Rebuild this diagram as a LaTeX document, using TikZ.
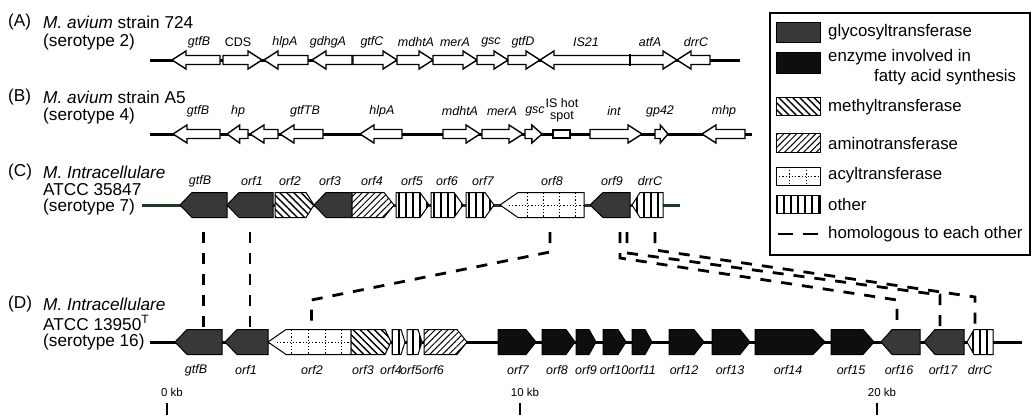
\documentclass[tikz,border=0pt]{standalone}
\usepackage{fontspec}
\setmainfont{Liberation Sans}
\usepackage{xcolor}
\usepackage{tikz}
\usetikzlibrary{calc,patterns.meta}
\definecolor{glycogray}{HTML}{383838}
\definecolor{fattyblack}{HTML}{0E0E0E}
\definecolor{cline}{HTML}{1C3A24}

% open arrow (rows A, B): #1 = R/L, #2 = x1, #3 = x2, #4 = y
\newcommand{\oarrow}[4]{%
  \pgfmathsetmacro\hlen{min(14,0.6*(#3-#2))}%
  \if#1R
    \draw[oarr] (#2,#4-4.5) -- (#3-\hlen,#4-4.5) -- (#3-\hlen,#4-9) -- (#3,#4)
      -- (#3-\hlen,#4+9) -- (#3-\hlen,#4+4.5) -- (#2,#4+4.5) -- cycle;
  \else
    \draw[oarr] (#3,#4-4.5) -- (#2+\hlen,#4-4.5) -- (#2+\hlen,#4-9) -- (#2,#4)
      -- (#2+\hlen,#4+9) -- (#2+\hlen,#4+4.5) -- (#3,#4+4.5) -- cycle;
  \fi}
% block gene (rows C, D): #1 = style, #2 = R/L, #3 = x1, #4 = x2, #5 = tip, #6 = y, #7 = name
\newcommand{\bgene}[7]{%
  \if#2R
    \draw[#1] (#3,#6-12.5) -- (#4-#5,#6-12.5) -- (#4,#6) -- (#4-#5,#6+12.5) -- (#3,#6+12.5) -- cycle;
  \else
    \draw[#1] (#4,#6-12.5) -- (#3+#5,#6-12.5) -- (#3,#6) -- (#3+#5,#6+12.5) -- (#4,#6+12.5) -- cycle;
  \fi
  \coordinate (#7) at ({(#3+#4)/2},#6);}

\begin{document}
\begin{tikzpicture}[x=1pt, y=-1pt,
    oarr/.style={draw=black, line width=1.4pt, fill=white},
    bb/.style={line width=3pt, draw=black},
    glyco/.style={draw=black, line width=1pt, fill=glycogray},
    fatty/.style={draw=black, line width=1pt, fill=fattyblack},
    methyl/.style={draw=black, line width=1pt, preaction={fill=white},
                   pattern={Lines[angle=-45,distance=5pt,line width=1.4pt]}},
    amino/.style={draw=black, line width=1pt, preaction={fill=white},
                  pattern={Lines[angle=45,distance=4.5pt,line width=1pt]}},
    misc/.style={draw=black, line width=1pt, preaction={fill=white},
                 pattern={Lines[angle=90,distance=7pt,line width=1.6pt]}},
    acyl/.style={draw=black, line width=1pt, fill=white},
    acyldot/.style={line width=0.9pt, dash pattern=on 1.2pt off 2pt},
    homol/.style={line width=2.8pt, dash pattern=on 11pt off 10pt},
    ttl/.style={font=\fontsize{17.2}{19}\selectfont, anchor=west, inner sep=0pt},
    glbl/.style={font=\fontsize{12.5}{14}\selectfont\itshape, inner sep=0pt},
    lgd/.style={font=\fontsize{16.8}{19}\selectfont, anchor=west, inner sep=0pt},
    kb/.style={font=\fontsize{11.5}{13}\selectfont, inner sep=0pt},
  ]
  \fill[white] (0,0) rectangle (1032,415);
  \useasboundingbox (0,0) rectangle (1032,415);

  % strain titles
  \node[ttl] (tA) at (8,22) {(A)};
  \node[ttl] (tA1) at (43,22) {\textit{M. avium} strain 724};
  \node[ttl] (tA2) at (43,42) {(serotype 2)};
  \node[ttl] (tB) at (8,97) {(B)};
  \node[ttl] (tB1) at (43,97) {\textit{M. avium} strain A5};
  \node[ttl] (tB2) at (43,116) {(serotype 4)};
  \node[ttl] (tC) at (8,172) {(C)};
  \node[ttl] (tC1) at (43,172) {\textit{M. Intracellulare}};
  \node[ttl] (tC2) at (43,190) {ATCC 35847};
  \node[ttl] (tC3) at (43,207) {(serotype 7)};
  \node[ttl] (tD) at (8,304) {(D)};
  \node[ttl] (tD1) at (43,304) {\textit{M. Intracellulare}};
  \node[ttl] (tD2) at (43,323) {ATCC 13950\textsuperscript{T}};
  \node[ttl] (tD3) at (43,342) {(serotype 16)};

  % backbones
  \draw[bb] (150,60) -- (740,60);
  \draw[bb] (150,134) -- (752,134);
  \draw[bb, draw=cline] (142,205) -- (680,205);
  \draw[bb] (150,342) -- (1022,342);

  % (A) strain 724
  \foreach \d/\a/\b in {L/172/220, R/223/262, L/264/308, L/312/352, R/353/397, R/397/433,
                        R/433/477, R/477/508, R/508/540, L/540/630, R/630/677, L/677/710}
    \oarrow{\d}{\a}{\b}{60};
  \draw[line width=2.2pt] (630,54) -- (630,66);
  \foreach \t/\x [count=\i] in {gtfB/199, {\upshape CDS}/238, hlpA/285, gdhgA/328, gtfC/372,
                                mdhtA/416, merA/455, gsc/491, gtfD/523, IS21/586, atfA/650, drrC/696}
    \node[glbl] (lA\i) at (\x,42) {\t};

  % (B) strain A5
  \foreach \d/\a/\b in {L/173/220, L/227/248, L/250/278, L/280/323, L/360/402, R/443/480,
                        R/482/523, R/525/542, R/590/642, R/655/668, L/702/745}
    \oarrow{\d}{\a}{\b}{134};
  \draw[oarr] (553,130) rectangle (570,138);
  \foreach \t/\x [count=\i] in {gtfB/198, hp/238, gtfTB/305, hlpA/382, mdhtA/460, merA/502,
                                gsc/535, int/614, gp42/660, mhp/724}
    \node[glbl] (lB\i) at (\x,111) {\t};
  \node[glbl, align=center, font=\fontsize{12.5}{12}\selectfont] (lBis) at (562,110) {IS hot\\spot};

  % (C) ATCC 35847
  \foreach \s/\d/\a/\b/\t/\n in {glyco/L/180/227/12/gtfB, glyco/L/227/273/12/orf1,
        methyl/R/275/314/8/orf2, glyco/L/314/352/12/orf3, amino/R/352/394/10/orf4,
        misc/R/396/429/9/orf5, misc/R/431/463/9/orf6, misc/R/466/494/9/orf7,
        acyl/L/500/584/18/orf8, glyco/L/590/630/13/orf9, misc/L/632/663/8/drrC}
    \bgene{\s}{\d}{\a}{\b}{\t}{205}{C-\n};
  \draw[acyldot] (509,205) -- (584,205);
  \foreach \x in {527,543,559,575}
    \draw[acyldot] (\x,193) -- (\x,217);
  \foreach \t/\x [count=\i] in {gtfB/200, orf1/252, orf2/290, orf3/330, orf4/372, orf5/412,
                                orf6/447, orf7/483, orf8/552, orf9/612, drrC/650}
    \node[glbl] (lC\i) at (\x,181) {\t};

  % (D) ATCC 13950
  \foreach \s/\d/\a/\b/\t/\n in {glyco/L/175/222/12/gtfB, glyco/L/225/268/12/orf1,
        acyl/L/268/351/18/orf2, methyl/R/351/391/6/orf3, misc/R/392/405/4/orf4,
        misc/R/407/422/4/orf5, amino/R/424/467/10/orf6, fatty/R/498/536/10/orf7,
        fatty/R/542/575/9/orf8, fatty/R/576/596/7/orf9, fatty/R/603/626/8/orf10,
        fatty/R/632/652/7/orf11, fatty/R/669/704/10/orf12, fatty/R/712/750/10/orf13,
        fatty/R/755/825/12/orf14, fatty/R/831/874/11/orf15, glyco/L/881/920/11/orf16,
        glyco/L/924/964/11/orf17, misc/L/967/993/7/drrC}
    \bgene{\s}{\d}{\a}{\b}{\t}{342}{D-\n};
  \draw[acyldot] (277,342) -- (351,342);
  \foreach \x in {291,308,325,341}
    \draw[acyldot] (\x,330) -- (\x,354);
  \foreach \t/\x [count=\i] in {gtfB/196, orf1/246, orf2/312, orf3/363, orf4/391, orf5/411,
        orf6/433, orf7/518, orf8/557, orf9/586, orf10/614, orf11/642, orf12/684, orf13/730,
        orf14/788, orf15/851, orf16/899, orf17/943, drrC/980}
    \node[glbl] (lD\i) at (\x,370) {\t};

  % homologous genes
  \draw[homol] ($(C-gtfB)+(0,27)$) -- ($(C-gtfB |- D-gtfB)+(0,-14)$);
  \draw[homol] ($(C-orf1)+(0,27)$) -- ($(C-orf1 |- D-orf1)+(0,-14)$);
  \draw[homol] ($(C-orf8)+(8,27)$) -- ++(0,20) -- ($(D-orf2)+(2,-42)$) -- ($(D-orf2)+(2,-14)$);
  \draw[homol] ($(C-drrC)+(7.5,27)$) -- ++(0,18) -- ($(D-drrC)+(-5,-45)$) -- ($(D-drrC)+(-5,-14)$);
  \draw[homol] ($(C-orf9)+(17,27)$) -- ++(0,21) -- ($(D-orf17)+(-4,-47)$) -- ($(D-orf17)+(-4,-14)$);
  \draw[homol] ($(C-orf9)+(10,27)$) -- ++(0,26) -- ($(D-orf16)+(-3.5,-42)$) -- ($(D-orf16)+(-3.5,-14)$);

  % legend
  \draw[line width=1.2pt] (770,13) rectangle (1030,255);
  \draw[glyco] (776,22) rectangle (820,42);
  \node[lgd] (lg1) at (828,32) {glycosyltransferase};
  \draw[fatty] (776,52) rectangle (820,73);
  \node[lgd] (lg2) at (828,57) {enzyme involved in};
  \node[lgd] (lg2b) at (874,77) {fatty acid synthesis};
  \draw[methyl] (776,97) rectangle (820,115);
  \node[lgd] (lg3) at (828,107) {methyltransferase};
  \draw[amino] (776,133) rectangle (820,152);
  \node[lgd] (lg4) at (828,143) {aminotransferase};
  \draw[acyl] (776,167) rectangle (820,185);
  \draw[acyldot] (776,176) -- (820,176);
  \draw[acyldot] (789,167) -- (789,185);
  \draw[acyldot] (806,167) -- (806,185);
  \node[lgd] (lg5) at (828,175) {acyltransferase};
  \draw[misc] (776,195) rectangle (820,213);
  \node[lgd] (lg6) at (828,204) {other};
  \draw[homol, dash pattern=on 15pt off 10pt] (778,234) -- (820,234);
  \node[lgd] (lg7) at (828,234) {homologous to each other};

  % scale
  \foreach \x/\t [count=\i] in {167/0, 520/10, 877/20} {
    \draw[line width=2.5pt] (\x,403) -- (\x,415);
    \node[kb] (kb\i) at (\x+5,392) {\t\ kb};
  }
\end{tikzpicture}
\end{document}
